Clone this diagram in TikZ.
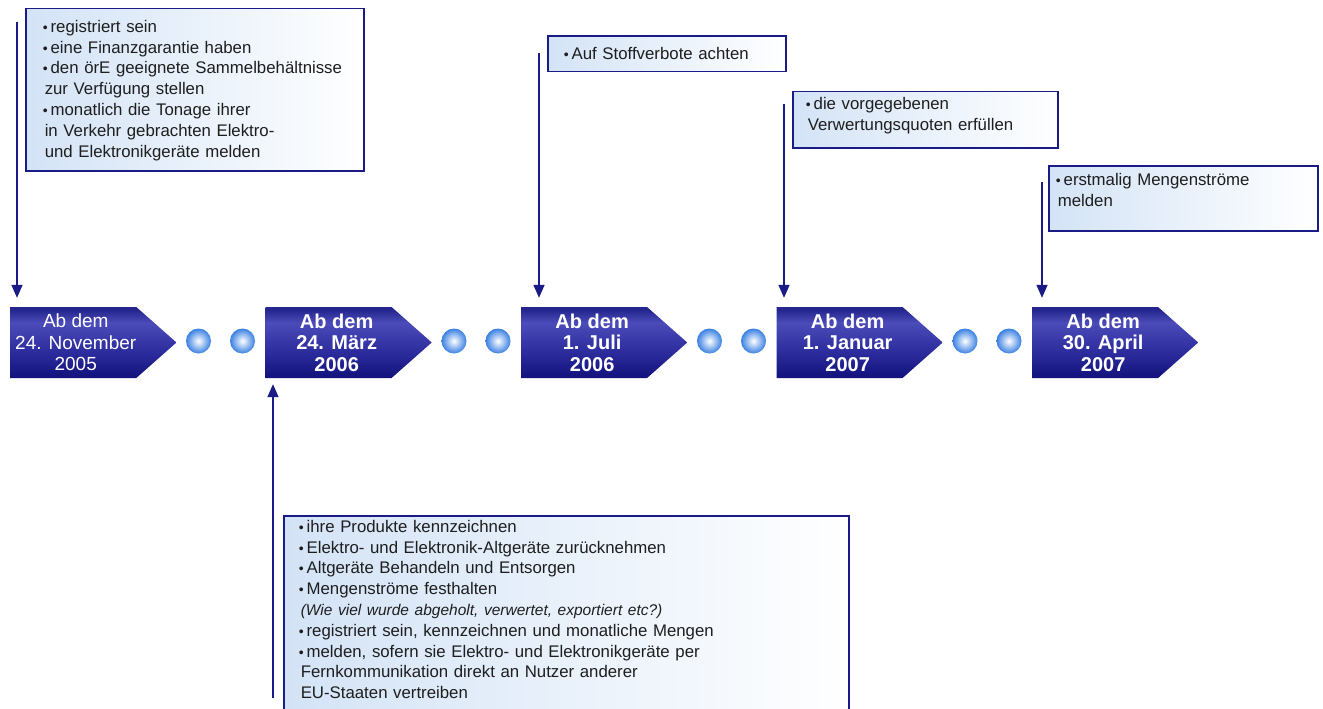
\documentclass[tikz,border=0pt]{standalone}
\usepackage{fontspec}
\setmainfont{Liberation Sans}
\usetikzlibrary{arrows.meta, positioning, shapes.symbols, calc}

\definecolor{navy}{HTML}{1B1B87}
\definecolor{notetext}{HTML}{1E1E1E}
\definecolor{noteblue}{HTML}{D3E3F6}
\definecolor{beadblue}{HTML}{3A80E2}
\definecolor{pbot}{HTML}{12127C}
\definecolor{pmid}{HTML}{2E2EA0}
\definecolor{plight}{HTML}{4B4BB9}
\definecolor{ptop}{HTML}{26268F}
\pgfdeclareverticalshading{datefill}{100bp}{color(0bp)=(pbot); color(25bp)=(pbot); color(45bp)=(pmid); color(64bp)=(plight); color(73bp)=(ptop); color(75bp)=(ptop); color(100bp)=(ptop)}

\newcommand{\bul}{{\fontsize{14}{14}\selectfont •}\hspace{3pt}}
\newcommand{\datelines}[4][16pt]{\hspace*{#1}#2\\\hspace*{#1}#3\\\hspace*{#1}#4}

\begin{document}
\begin{tikzpicture}[x=1pt, y=-1pt,
      datebox/.style={signal, signal to=east, signal pointer angle=83, shading=datefill, minimum width=166pt, minimum height=71pt, inner sep=0pt, text=white, align=center, font=\fontsize{20}{21.5}\selectfont\bfseries, anchor=west},
      note/.style={rectangle, draw=navy, line width=1.5pt, left color=noteblue, right color=white, anchor=north west, align=left, inner ysep=0pt, text=notetext, font=\fontsize{16.8}{20.8}\selectfont},
      bead/.style={circle, minimum size=25pt, inner sep=0pt, inner color=white, outer color=beadblue},
      pin/.style={draw=navy, line width=1.5pt, -{Triangle[width=11pt,length=13pt]}}]
      \useasboundingbox (0,0) rectangle (1323,709);

      \node[datebox, font=\fontsize{19}{21.5}\selectfont] (nov05) at (10,342.5) {\datelines[5pt]{Ab dem}{24. November}{2005}};
      \node[datebox] (mar06) at (265.5,342.5) {\datelines{Ab dem}{24. März}{2006}};
      \node[datebox] (jul06) at (521,342.5) {\datelines{Ab dem}{1. Juli}{2006}};
      \node[datebox] (jan07) at (776.5,342.5) {\datelines{Ab dem}{1. Januar}{2007}};
      \node[datebox] (apr07) at (1032,342.5) {\datelines{Ab dem}{30. April}{2007}};

      \foreach \x [count=\k] in {198.5, 242.5, 454, 498, 709.5, 753.5, 965, 1009}
        \node[bead] (bead\k) at (\x,341) {};

      % Annotations
      \node[note, inner xsep=17pt, text width=304pt, text height=23.5pt, text depth=138.5pt] (regBox) at (25,8)
        {\bul registriert sein\\
         \bul eine Finanzgarantie haben\\
         \bul den örE geeignete Sammelbehältnisse\\
         \hspace*{2pt}zur Verfügung stellen\\
         \bul monatlich die Tonage ihrer\\
         \hspace*{2pt}in Verkehr gebrachten Elektro-\\
         \hspace*{2pt}und Elektronikgeräte melden};
      \node[note, inner xsep=16pt, text width=206pt, text height=23.3pt, text depth=12.2pt] (banBox) at (547,35.5)
        {\bul Auf Stoffverbote achten};
      \node[note, inner xsep=13pt, text width=239pt, text height=17.5pt, text depth=38.5pt] (quotaBox) at (792,91)
        {\bul die vorgegebenen\\
         \hspace*{2pt}Verwertungsquoten erfüllen};
      \node[note, inner xsep=7pt, text width=255pt, text height=19.5pt, text depth=45.5pt] (flowBox) at (1048,165)
        {\bul erstmalig Mengenströme\\
         \hspace*{2pt}melden};
      \node[note, inner xsep=15pt, text width=535pt, text height=16.5pt, text depth=200pt] (dutyBox) at (283,515)
        {\bul ihre Produkte kennzeichnen\\
         \bul Elektro- und Elektronik-Altgeräte zurücknehmen\\
         \bul Altgeräte Behandeln und Entsorgen\\
         \bul Mengenströme festhalten\\
         \hspace*{2pt}{\itshape\fontsize{15.5}{20.8}\selectfont (Wie viel wurde abgeholt, verwertet, exportiert etc?)}\\
         \bul registriert sein, kennzeichnen und monatliche Mengen\\
         \bul melden, sofern sie Elektro- und Elektronikgeräte per\\
         \hspace*{2pt}Fernkommunikation direkt an Nutzer anderer\\
         \hspace*{2pt}EU-Staaten vertreiben};

      % Arrows
      \coordinate (regTail) at ($(regBox.north west)+(-8,14)$);
      \coordinate (banTail) at ($(banBox.north west)+(-8,17.5)$);
      \coordinate (quotaTail) at ($(quotaBox.north west)+(-8,13)$);
      \coordinate (flowTail) at ($(flowBox.north west)+(-6,17)$);
      \coordinate (dutyTail) at ($(dutyBox.north west)+(-10,183)$);

      \draw[pin, shorten >=9pt] (regTail) -- (regTail |- nov05.north);
      \draw[pin, shorten >=9pt] (banTail) -- (banTail |- jul06.north);
      \draw[pin, shorten >=9pt] (quotaTail) -- (quotaTail |- jan07.north);
      \draw[pin, shorten >=9pt] (flowTail) -- (flowTail |- apr07.north);
      \draw[pin, shorten >=6pt] (dutyTail) -- (dutyTail |- mar06.south);
    \end{tikzpicture}
\end{document}
